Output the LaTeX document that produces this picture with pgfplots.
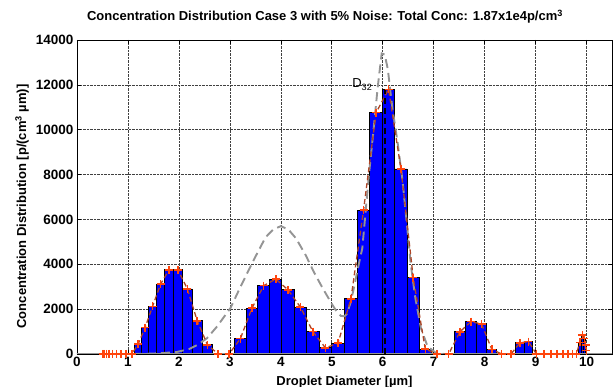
\documentclass[border=0pt]{standalone}
\usepackage{pgfplots}
\pgfplotsset{compat=1.18}
\usepackage{pgfplotstable}
\usepackage{fontspec}
\setmainfont{Liberation Sans}
\definecolor{barblue}{rgb}{0,0,1}
\definecolor{crossred}{rgb}{1,0.27,0.05}
\definecolor{brownline}{rgb}{0.68,0.27,0.15}
\definecolor{graycurve}{rgb}{0.58,0.58,0.58}

% bin centres and reconstructed values (crosses)
\pgfplotstableread{
x y
0.5033 0
0.5163 0
0.5423 0
0.5812 0
0.6328 0
0.6972 0
0.7740 0
0.8631 0
0.9642 0
1.0771 0
1.2014 450
1.3368 1180
1.4829 2120
1.6393 3110
1.8057 3750
1.9814 3750
2.1662 2900
2.3594 1480
2.5605 410
2.7690 0
2.9843 0
3.2058 680
3.4329 2040
3.6650 3050
3.9014 3340
4.1415 2860
4.3847 2090
4.6303 1000
4.8761 270
5.1243 490
5.3757 2460
5.6240 6420
5.8698 10760
6.1153 11800
6.3585 8250
6.5986 3400
6.8350 220
7.0672 0
7.2943 0
7.5158 990
7.7310 1440
7.9395 1340
8.1407 210
8.3339 0
8.5186 0
8.6944 500
8.8607 550
9.0172 0
9.1633 0
9.2987 0
9.4230 0
9.5359 0
9.6370 0
9.7260 0
9.8029 0
9.8672 520
9.9189 850
9.9578 680
9.9838 400
9.9968 150
}\crosses

\begin{document}
\begin{tikzpicture}
\begin{axis}[
  scale only axis,
  width=535pt, height=314pt,
  xmin=0, xmax=10.5, ymin=0, ymax=14000,
  xtick={0,1,...,10},
  ytick={0,2000,...,14000},
  scaled y ticks=false,
  /pgf/number format/.cd, 1000 sep={}, assume math mode=true,
  /pgfplots/.cd,
  grid=major,
  grid style={densely dotted, black!75, line width=0.6pt},
  tick align=inside,
  major tick length=4pt,
  axis line style={line width=0.6pt},
  tick style={black, line width=0.6pt},
  tick label style={font=\fontsize{13.5}{15}\selectfont\bfseries},
  title={Concentration Distribution Case 3 with 5\% Noise: Total Conc: 1.87x1e4p/cm\textsuperscript{3}},
  title style={font=\fontsize{13}{15}\selectfont\bfseries, at={(axis description cs:0.4636,1)}, anchor=base, yshift=13pt},
  xlabel={Droplet Diameter [µm]},
  xlabel style={font=\fontsize{13}{15}\selectfont\bfseries, at={(axis description cs:0.5,0)}, anchor=base, yshift=-31.5pt},
  ylabel={Concentration Distribution [p/(cm\textsuperscript{3} µm)]},
  ylabel style={font=\fontsize{13}{15}\selectfont\bfseries, at={(axis description cs:-0.0953,0.47)}, anchor=base},
  clip=true,
]
% bars (variable-width bins)
\addplot[ybar interval, fill=barblue, draw=black, line width=0.9pt] coordinates {
(1.1364,450)(1.2663,1180)(1.4072,2120)(1.5585,3110)(1.7201,3750)(1.8912,3750)(2.0716,2900)(2.2607,1480)(2.458,410)(2.663,0)};
\addplot[ybar interval, fill=barblue, draw=black, line width=0.9pt] coordinates {
(3.0935,680)(3.318,2040)(3.5477,3050)(3.7822,3340)(4.0206,2860)(4.2624,2090)(4.507,1000)(4.7535,270)(4.9986,490)(5.25,2460)(5.5014,6420)(5.7465,10760)(5.993,11800)(6.2376,8250)(6.4794,3400)(6.7178,220)(6.9523,0)};
\addplot[ybar interval, fill=barblue, draw=black, line width=0.9pt] coordinates {
(7.4065,990)(7.625,1440)(7.837,1340)(8.042,210)(8.2393,0)};
\addplot[ybar interval, fill=barblue, draw=black, line width=0.9pt] coordinates {
(8.6088,500)(8.7799,550)(8.9415,0)};
\addplot[ybar interval, fill=barblue, draw=black, line width=0.9pt] coordinates {
(9.8382,520)(9.8962,850)(9.9415,680)(9.974,400)(9.9935,150)(10,0)};
% baseline
\addplot[graycurve, line width=1.3pt] coordinates {(0,0)(10.5,0)};
% true distribution
\addplot[graycurve, line width=1.9pt, dash pattern=on 9pt off 5pt] coordinates {
(0,0)(1.0,0)(1.3,5)(1.5,20)(1.7,45)(1.96,90)(2.2,220)(2.36,400)(2.55,700)(2.75,1230)(2.9,1700)(3.01,2040)(3.21,3000)(3.47,4200)(3.7,5200)(3.85,5550)(4.0,5700)(4.15,5550)(4.3,5150)(4.49,4400)(4.65,3650)(4.82,2940)(5.01,2200)(5.1,1880)(5.18,1700)(5.25,1680)(5.3,1800)(5.37,2300)(5.45,3100)(5.5,3680)(5.6,4720)(5.73,8000)(5.83,10220)(5.9,11860)(5.98,13400)(6.04,13350)(6.1,12700)(6.19,10950)(6.29,9470)(6.39,7700)(6.47,5900)(6.55,4000)(6.64,2500)(6.75,1150)(6.88,340)(7.05,40)(7.2,0)(10.5,0)};
% reconstruction
\addplot[brownline, line width=1.3pt, dash pattern=on 5pt off 3pt] table[x=x, y=y] {\crosses};
\addplot[only marks, mark=+, mark size=4pt, crossred, mark options={line width=1.5pt}] table[x=x, y=y] {\crosses};
% D32
\addplot[black, line width=1.5pt, dash pattern=on 6pt off 4pt] coordinates {(6.04,0)(6.04,11800)};
\node[anchor=base west, font=\fontsize{13}{15}\selectfont, inner sep=0pt] at (axis cs:5.4,11860) {D\textsubscript{32}};
\coordinate (SW) at (rel axis cs:0,0);
\coordinate (NE) at (rel axis cs:1,1);
\end{axis}
\pgfresetboundingbox
\path[use as bounding box] ([xshift=-77pt,yshift=-33pt]SW) rectangle ([xshift=2pt,yshift=40pt]NE);
\end{tikzpicture}
\end{document}
